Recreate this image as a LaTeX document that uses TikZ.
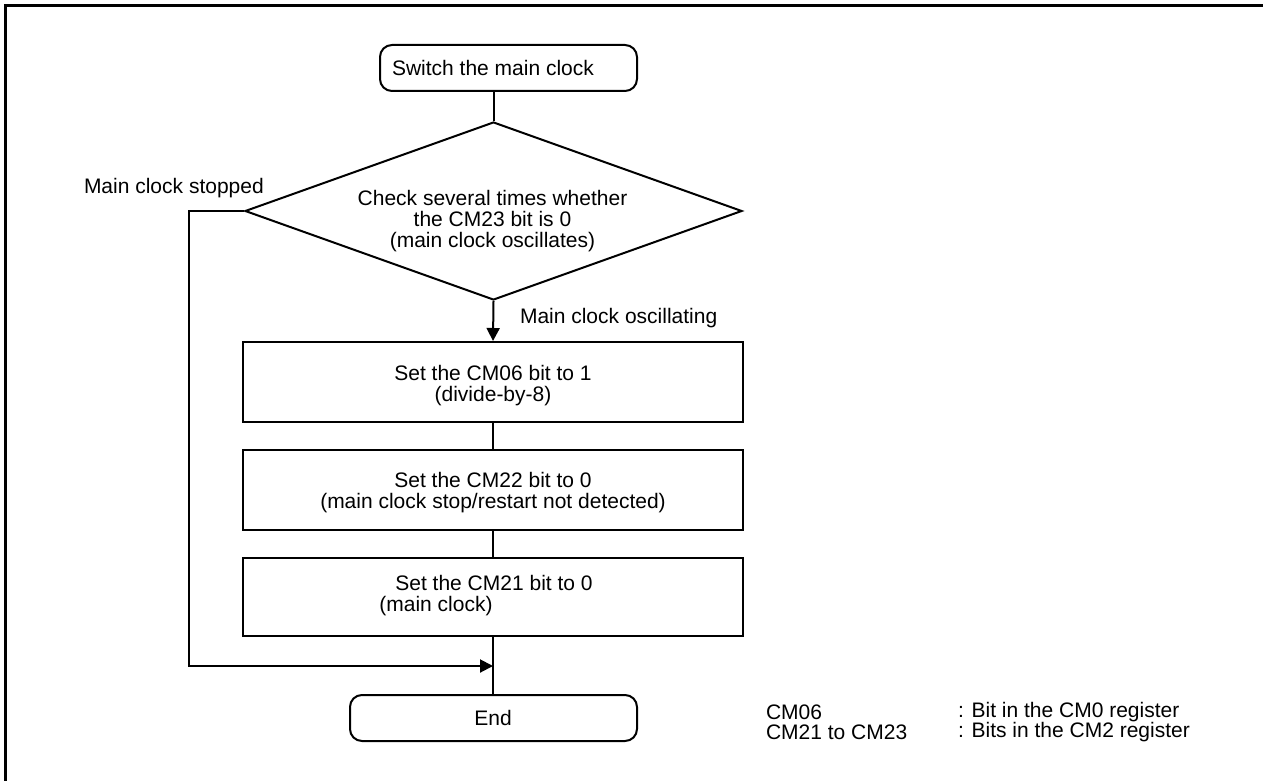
\documentclass[tikz,border=0pt]{standalone}
\usepackage{fontspec}
\setmainfont{Liberation Sans}
\usetikzlibrary{arrows.meta,shapes.geometric}
\tikzset{
  txt/.style={font=\fontsize{21pt}{21pt}\selectfont, inner sep=0pt, align=center},
  term/.style={draw, rounded corners=12pt, inner sep=0pt},
  procbox/.style={draw, minimum width=500pt, inner sep=0pt},
  decbox/.style={draw, diamond, minimum width=497pt, minimum height=178pt, inner sep=0pt},
  flow/.style={line width=2pt},
  arr/.style={flow, -{Triangle[length=13pt,width=13pt]}}
}
\begin{document}
\begin{tikzpicture}[x=1pt,y=-1pt, line width=2pt]
\useasboundingbox (0,0) rectangle (1263,781);
% partial frame
\draw[line width=3pt] (5.5,781) -- (5.5,5.5) -- (1263,5.5);

% start terminal
\node[term, minimum width=257pt, minimum height=46pt] (start) at (508.5,68) {};
\node[txt] (starttxt) at (493,68) {Switch the main clock};

% decision
\node[decbox] (dec) at (493.5,211) {};
\node[txt] (dectxt) at (492.5,221) {Check several times whether\\the CM23 bit is 0\\(main clock oscillates)};

% process boxes
\node[procbox, minimum height=80pt] (box1) at (493,382) {};
\node[txt] (box1txt) at (493,386) {Set the CM06 bit to 1\\(divide-by-8)};
\node[procbox, minimum height=80pt] (box2) at (493,490) {};
\node[txt] (box2txt) at (493,493) {Set the CM22 bit to 0\\(main clock stop/restart not detected)};
\node[procbox, minimum height=78pt] (box3) at (493,597) {};
\node[txt, align=left] (box3txt) at (486,596) {\hspace*{16pt}Set the CM21 bit to 0\\(main clock)};

% end terminal
\node[term, minimum width=287pt, minimum height=46pt] (endn) at (493.5,718) {};
\node[txt] (endtxt) at (493,718) {End};

% merge point
\coordinate (merge) at (493,666);

% labels
\node[txt, anchor=west] (lstop) at (83,188) {Main clock stopped};
\node[txt, anchor=west] (losc) at (519,318) {Main clock oscillating};

% legend
\node[txt, anchor=west] (lg1a) at (765,712) {CM06};
\node[txt, anchor=west] (lg2a) at (765,732) {CM21 to CM23};
\node[txt, anchor=west] (lg1b) at (957,712) {: Bit in the CM0 register};
\node[txt, anchor=west] (lg2b) at (957,732) {: Bits in the CM2 register};

% connectors
\draw[flow] (dec.north |- start.south) -- (dec.north);
\draw[arr] (dec.south) -- (box1.north);
\draw[flow] (box1.south) -- (box2.north);
\draw[flow] (box2.south) -- (box3.north);
\draw[flow] (box3.south) -- (box3.south |- endn.north);
\draw[arr] (dec.west) -- ++(-55,0) |- (merge);
\end{tikzpicture}
\end{document}
